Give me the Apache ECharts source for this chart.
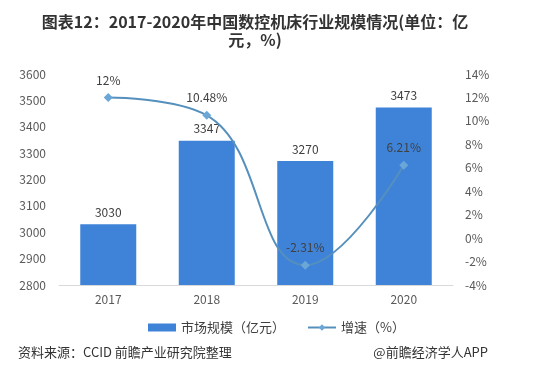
<!DOCTYPE html>
<html><head><meta charset="utf-8">
<script src="https://cdn.jsdelivr.net/npm/echarts@6/dist/echarts.min.js"></script>
<style>html,body{margin:0;padding:0;background:#fff}#c{width:533px;height:380px}</style>
</head><body><div id="c"></div>
<script>
const categories = ['2017', '2018', '2019', '2020'];
const marketSize = [3030, 3347, 3270, 3473];
const growth = [12, 10.48, -2.31, 6.21];
const growthLabels = ['12%', '10.48%', '-2.31%', '6.21%'];
const titleText = '图表12：2017-2020年中国数控机床行业规模情况(单位：亿\n元，%)';
const seriesNames = ['市场规模（亿元）', '增速（%）'];
const sourceText = '资料来源：CCID 前瞻产业研究院整理';
const brandText = '@前瞻经济学人APP';

const font = '"Microsoft YaHei","Noto Sans CJK SC",sans-serif';
const chart = echarts.init(document.getElementById('c'), null, {renderer: 'canvas'});
chart.setOption({
  animation: false,
  textStyle: {fontFamily: font},
  title: [{
    text: titleText, left: 250, top: 8, textAlign: 'center',
    textStyle: {fontSize: 16, fontWeight: 'bold', color: '#333', lineHeight: 18, fontFamily: font}
  }],
  graphic: [
    {type: 'text', left: 18, top: 346, style: {text: sourceText, fontSize: 13, fill: '#333', fontFamily: font}},
    {type: 'text', right: 45, top: 346, style: {text: brandText, fontSize: 13, fill: '#333', fontFamily: font}}
  ],
  legend: {
    top: 316, left: 143, itemGap: 22, itemWidth: 28, itemHeight: 8,
    textStyle: {fontSize: 13, color: '#404040', fontFamily: font},
    data: [{name: seriesNames[0], icon: 'rect'}, {name: seriesNames[1]}]
  },
  grid: {left: 59, right: 80, top: 74, bottom: 95},
  xAxis: {
    type: 'category', data: categories,
    axisLine: {onZero: false, lineStyle: {color: '#d9d9d9'}}, axisTick: {show: false},
    axisLabel: {color: '#595959', fontSize: 12, margin: 8}
  },
  yAxis: [{
    type: 'value', min: 2800, max: 3600, interval: 100,
    axisLine: {show: false}, axisTick: {show: false}, splitLine: {show: false},
    axisLabel: {color: '#595959', fontSize: 12, margin: 13, formatter: v => String(v)}
  }, {
    type: 'value', min: -4, max: 14, interval: 2,
    axisLine: {show: false}, axisTick: {show: false}, splitLine: {show: false},
    axisLabel: {color: '#595959', fontSize: 12, margin: 12, formatter: '{value}%'}
  }],
  series: [{
    name: seriesNames[0], type: 'bar', data: marketSize, barWidth: 56,
    itemStyle: {color: '#3f83d9'},
    label: {show: true, position: 'top', color: '#404040', fontSize: 12, distance: 6}
  }, {
    name: seriesNames[1], type: 'line', yAxisIndex: 1, data: growth, smooth: 0.45,
    symbol: 'diamond', symbolSize: 9,
    lineStyle: {color: '#5590bd', width: 2},
    itemStyle: {color: '#6aa7d6'},
    label: {show: true, position: 'top', color: '#404040', fontSize: 12, distance: 7,
      formatter: p => growthLabels[p.dataIndex]}
  }]
});
</script></body></html>
